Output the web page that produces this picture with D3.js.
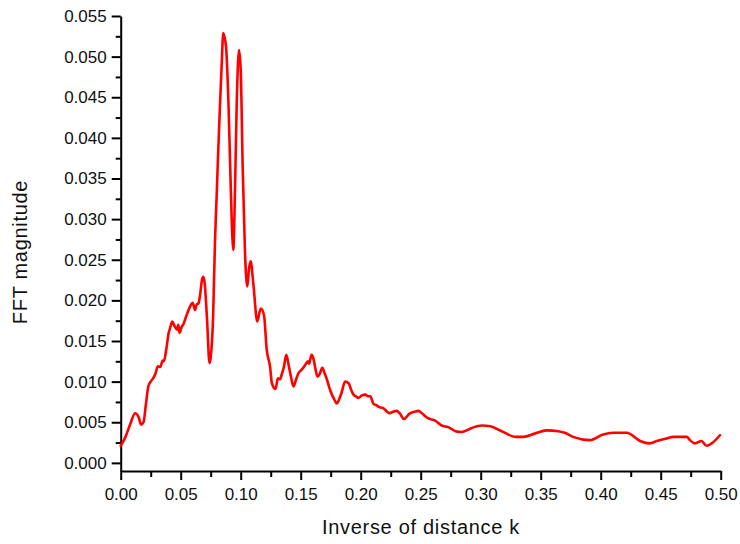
<!DOCTYPE html>
<html>
<head>
<meta charset="utf-8">
<script src="https://cdn.jsdelivr.net/npm/d3@7"></script>
<style>
  html, body { margin: 0; padding: 0; background: #fff; }
  svg { display: block; font-family: "Liberation Sans", Arial, Helvetica, sans-serif; }
  .axis path, .axis line { stroke: #000; stroke-width: 2px; }
  .axis text { font-size: 17px; fill: #111; }
  .title { font-size: 20px; fill: #111; letter-spacing: 0.7px; }
</style>
</head>
<body>
<svg id="chart" width="740" height="544"></svg>
<script>
// Spectrum samples: inverse distance k and FFT magnitude
const kValues = [
  0.000, 0.004, 0.008, 0.012, 0.015, 0.017, 0.019, 0.021, 0.023, 0.025,
  0.027, 0.029, 0.031, 0.033, 0.035, 0.036, 0.038, 0.040, 0.041, 0.043,
  0.045, 0.047, 0.048, 0.049, 0.051, 0.052, 0.054, 0.056, 0.058, 0.060,
  0.062, 0.063, 0.065, 0.066, 0.068, 0.069, 0.070, 0.072, 0.074, 0.075,
  0.077, 0.0786, 0.080, 0.0814, 0.083, 0.084, 0.0855, 0.0868, 0.0878, 0.0898,
  0.0917, 0.093, 0.0938, 0.0953, 0.0967, 0.0986, 0.100, 0.1017, 0.1036, 0.1055,
  0.107, 0.1083, 0.1105, 0.1138, 0.1167, 0.1194, 0.1217, 0.1244, 0.126, 0.129,
  0.131, 0.133, 0.134, 0.136, 0.138, 0.140, 0.142, 0.144, 0.146, 0.148,
  0.151, 0.154, 0.156, 0.157, 0.159, 0.1605, 0.162, 0.164, 0.166, 0.168,
  0.170, 0.172, 0.174, 0.176, 0.178, 0.180, 0.182, 0.184, 0.187, 0.190,
  0.192, 0.194, 0.196, 0.198, 0.201, 0.204, 0.206, 0.208, 0.2105, 0.213,
  0.215, 0.217, 0.219, 0.222, 0.224, 0.227, 0.230, 0.233, 0.236, 0.241,
  0.245, 0.248, 0.251, 0.256, 0.262, 0.2675, 0.273, 0.279, 0.284, 0.2925,
  0.301, 0.308, 0.3175, 0.329, 0.3355, 0.345, 0.355, 0.3647, 0.370, 0.377,
  0.391, 0.402, 0.4105, 0.4217, 0.4328, 0.441, 0.4467, 0.455, 0.4605, 0.4717,
  0.4744, 0.4786, 0.484, 0.4883, 0.4925, 0.4994
];
const magnitude = [
  0.0021, 0.0032, 0.0048, 0.0061, 0.0056, 0.0047, 0.0050, 0.0072, 0.0094, 0.0100,
  0.0104, 0.0110, 0.0119, 0.0118, 0.0126, 0.0125, 0.0140, 0.0160, 0.0165, 0.0174,
  0.0168, 0.0164, 0.0170, 0.0160, 0.0168, 0.0170, 0.0178, 0.0186, 0.0193, 0.0197,
  0.0188, 0.0194, 0.0197, 0.0205, 0.0227, 0.0229, 0.0221, 0.0175, 0.0123, 0.0130,
  0.0180, 0.0274, 0.0330, 0.0389, 0.0450, 0.0484, 0.0529, 0.0522, 0.0512, 0.0443,
  0.0340, 0.0280, 0.0262, 0.0340, 0.0443, 0.0508, 0.0484, 0.0361, 0.0258, 0.0217,
  0.0240, 0.0248, 0.0221, 0.0174, 0.0190, 0.0182, 0.0139, 0.0119, 0.0098, 0.0091,
  0.0104, 0.0103, 0.0108, 0.0118, 0.0133, 0.0120, 0.0105, 0.0094, 0.0102, 0.0110,
  0.0115, 0.0121, 0.0125, 0.0122, 0.0133, 0.0129, 0.0118, 0.0106, 0.0110, 0.0117,
  0.0110, 0.0102, 0.0092, 0.0084, 0.0078, 0.0073, 0.0078, 0.0086, 0.0100, 0.0098,
  0.0090, 0.0084, 0.0082, 0.0080, 0.0083, 0.0084, 0.0082, 0.0082, 0.0073, 0.0071,
  0.0069, 0.0068, 0.0067, 0.0063, 0.0061, 0.0063, 0.0064, 0.0060, 0.0054, 0.0061,
  0.0063, 0.0064, 0.0061, 0.0055, 0.0052, 0.0046, 0.0044, 0.0039, 0.0038, 0.0043,
  0.0046, 0.0045, 0.0039, 0.0032, 0.0032, 0.0036, 0.0040, 0.0039, 0.0037, 0.0032,
  0.0028, 0.0035, 0.0037, 0.0037, 0.0027, 0.0024, 0.0027, 0.0030, 0.0032, 0.0032,
  0.0028, 0.0024, 0.0027, 0.0021, 0.0024, 0.0034
];

// Axis ticks
const xTicks = [0.00, 0.05, 0.10, 0.15, 0.20, 0.25, 0.30, 0.35, 0.40, 0.45, 0.50];
const xMinorTicks = [0.025, 0.075, 0.125, 0.175, 0.225, 0.275, 0.325, 0.375, 0.425, 0.475];
const yTicks = [0.000, 0.005, 0.010, 0.015, 0.020, 0.025, 0.030, 0.035, 0.040, 0.045, 0.050, 0.055];
const yMinorTicks = [0.0025, 0.0075, 0.0125, 0.0175, 0.0225, 0.0275, 0.0325, 0.0375, 0.0425, 0.0475, 0.0525];

const xLabel = "Inverse of distance k";
const yLabel = "FFT magnitude";

const svg = d3.select("#chart");

const x = d3.scaleLinear().domain([0, 0.5]).range([120.7, 720.7]);
const y = d3.scaleLinear().domain([-0.001, 0.055]).range([471, 16]);

const fmt2 = d3.format(".2f");
const fmt3 = d3.format(".3f");

// Minor ticks (drawn first, no labels)
svg.append("g")
  .attr("class", "axis")
  .attr("transform", `translate(0,${y.range()[0]})`)
  .call(d3.axisBottom(x).tickValues(xMinorTicks).tickSize(6).tickSizeOuter(0).tickFormat(""))
  .call(g => g.select(".domain").remove());

svg.append("g")
  .attr("class", "axis")
  .attr("transform", `translate(${x.range()[0]},0)`)
  .call(d3.axisLeft(y).tickValues(yMinorTicks).tickSize(5).tickSizeOuter(0).tickFormat(""))
  .call(g => g.select(".domain").remove());

// Major axes
svg.append("g")
  .attr("class", "axis")
  .attr("transform", `translate(0,${y.range()[0]})`)
  .call(d3.axisBottom(x).tickValues(xTicks).tickSize(9).tickSizeOuter(0).tickPadding(8).tickFormat(fmt2))
  .call(g => g.selectAll("text").attr("font-family", null).attr("font-size", null));

svg.append("g")
  .attr("class", "axis")
  .attr("transform", `translate(${x.range()[0]},0)`)
  .call(d3.axisLeft(y).tickValues(yTicks).tickSize(9).tickSizeOuter(0).tickPadding(5).tickFormat(fmt3))
  .call(g => g.selectAll("text").attr("font-family", null).attr("font-size", null));

// Spectrum line
const points = kValues.map((k, i) => [k, magnitude[i]]);
const line = d3.line()
  .x(d => x(d[0]))
  .y(d => y(d[1]))
  .curve(d3.curveMonotoneX);

svg.append("path")
  .datum(points)
  .attr("fill", "none")
  .attr("stroke", "#ff0000")
  .attr("stroke-width", 2.6)
  .attr("stroke-linejoin", "round")
  .attr("stroke-linecap", "round")
  .attr("d", line);

// Axis titles
svg.append("text")
  .attr("class", "title")
  .attr("x", 421)
  .attr("y", 534)
  .attr("text-anchor", "middle")
  .text(xLabel);

svg.append("text")
  .attr("class", "title")
  .attr("transform", "translate(27,252) rotate(-90)")
  .attr("text-anchor", "middle")
  .text(yLabel);
</script>
</body>
</html>
